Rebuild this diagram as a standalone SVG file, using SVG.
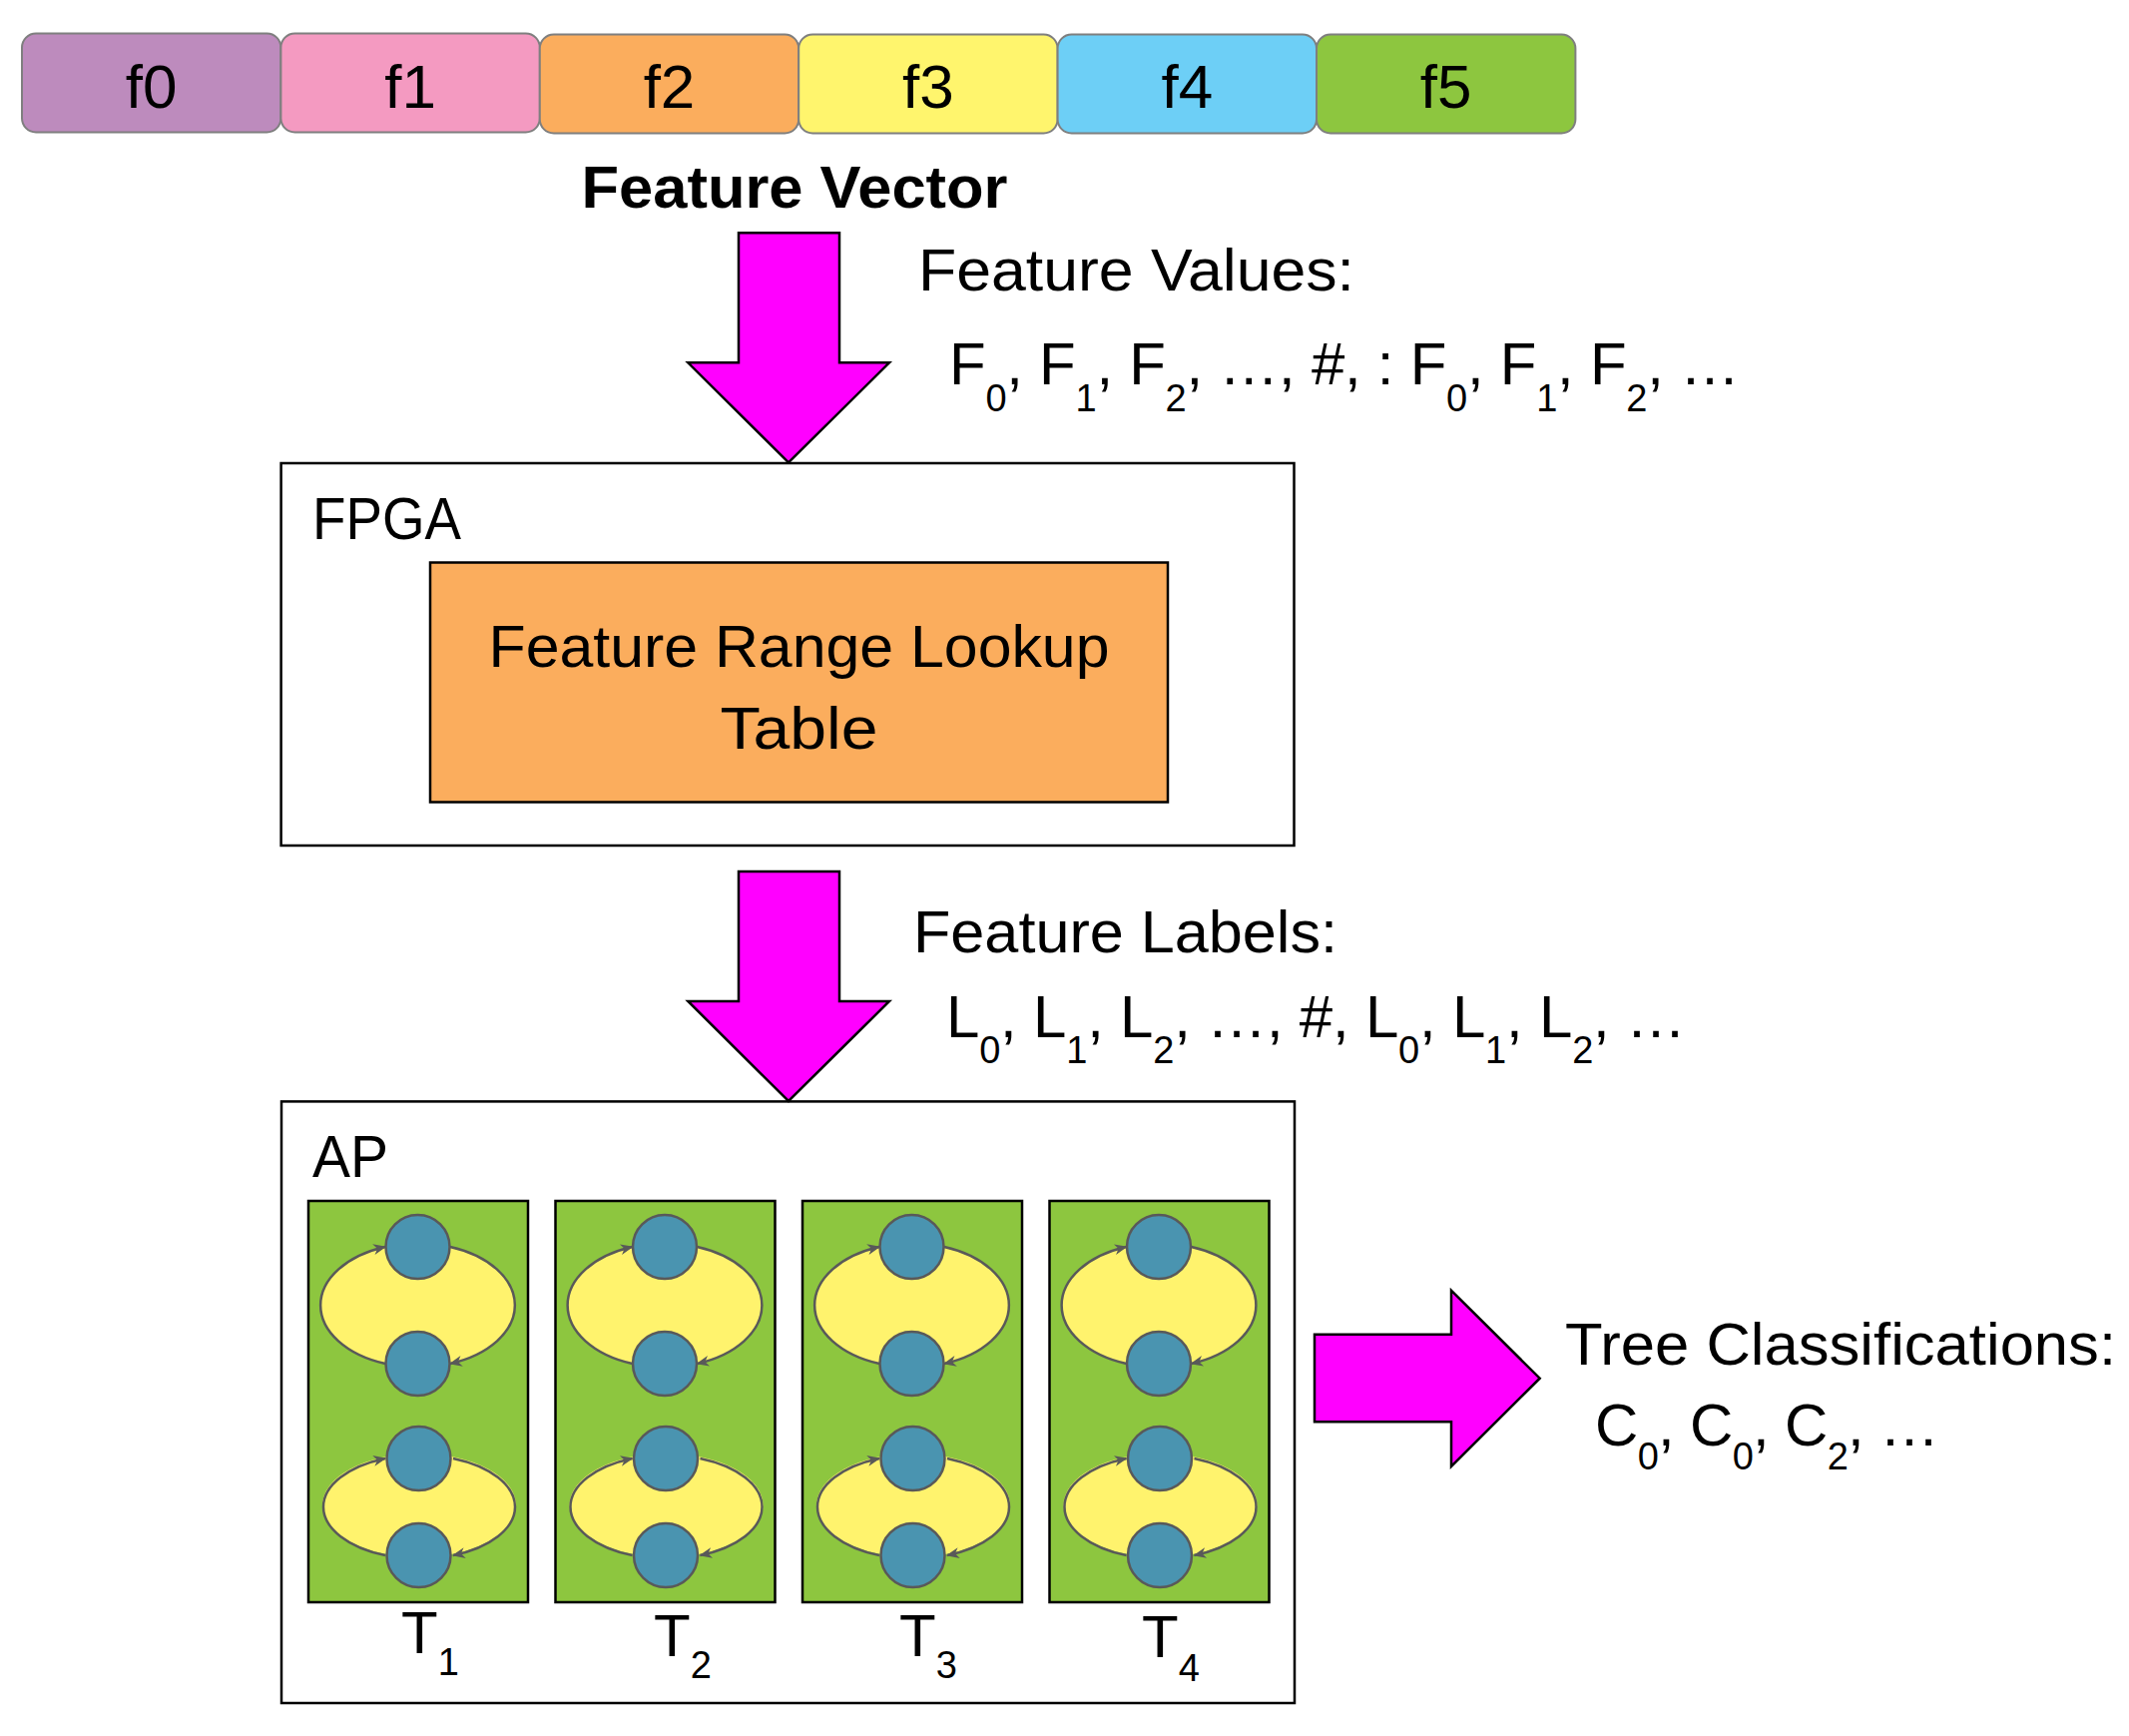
<svg xmlns="http://www.w3.org/2000/svg" xmlns:xlink="http://www.w3.org/1999/xlink" width="2133" height="1739" viewBox="0 0 2133 1739">
<style>
text { font-family: "Liberation Sans", Arial, sans-serif; fill: #000; }
.lbl { font-size: 60px; }
.sub { font-size: 38px; }
.fl { font-size: 62px; }
.feat { stroke: #7f7f7f; stroke-width: 2; }
.box { fill: #fff; stroke: #000; stroke-width: 2.5; }
.bigarrow { fill: #ff00ff; stroke: #000; stroke-width: 2.5; stroke-linejoin: miter; }
.loop { fill: none; stroke: #595959; stroke-width: 2.5; }
.node { fill: #4a94b0; stroke: #595959; stroke-width: 2.5; }
</style>
<defs>
  <marker id="ah" markerUnits="userSpaceOnUse" viewBox="0 0 12 10" markerWidth="13" markerHeight="11" refX="11" refY="5" orient="auto">
    <path d="M0,0 L12,5 L0,10 L3.5,5 Z" fill="#595959"/>
  </marker>
  <g id="treeShape">
    <rect x="0" y="0" width="220" height="402" fill="#8dc63f" stroke="#000" stroke-width="2.5"/>
    <ellipse cx="109.5" cy="104.5" rx="97" ry="62" fill="#fff36d"/>
    <path class="loop" d="M77,163 A97,62 0 0 1 77,46" marker-end="url(#ah)"/>
    <path class="loop" d="M142,46 A97,62 0 0 1 142,163" marker-end="url(#ah)"/>
    <circle class="node" cx="109.5" cy="46" r="32"/>
    <circle class="node" cx="109.5" cy="163" r="32"/>
    <ellipse cx="111" cy="305" rx="97" ry="52" fill="#fff36d"/>
    <path class="loop" d="M77,355 A97,52 0 0 1 77,258" marker-end="url(#ah)"/>
    <path class="loop" d="M145,258 A97,52 0 0 1 145,355" marker-end="url(#ah)"/>
    <circle class="node" cx="110.5" cy="258" r="32"/>
    <circle class="node" cx="110.5" cy="355" r="32"/>
  </g>
</defs>
<rect width="2133" height="1739" fill="#fff"/>

<g id="feature-vector">
  <rect class="feat" x="22" y="33.5" width="259.4" height="99" rx="14" fill="#bd8bbd"/>
  <rect class="feat" x="281.4" y="33.5" width="259.4" height="99" rx="14" fill="#f49ac1"/>
  <rect class="feat" x="540.8" y="34.5" width="259.4" height="99" rx="14" fill="#fbad5d"/>
  <rect class="feat" x="800.2" y="34.5" width="259.4" height="99" rx="14" fill="#fff56d"/>
  <rect class="feat" x="1059.6" y="34.5" width="259.4" height="99" rx="14" fill="#6dcff6"/>
  <rect class="feat" x="1319" y="34.5" width="259.4" height="99" rx="14" fill="#8dc63f"/>
  <text class="fl" x="151.7" y="108" text-anchor="middle">f0</text>
  <text class="fl" x="411.1" y="108" text-anchor="middle">f1</text>
  <text class="fl" x="670.5" y="108" text-anchor="middle">f2</text>
  <text class="fl" x="929.9" y="108" text-anchor="middle">f3</text>
  <text class="fl" x="1189.3" y="108" text-anchor="middle">f4</text>
  <text class="fl" x="1448.7" y="108" text-anchor="middle">f5</text>
  <text x="796" y="208" text-anchor="middle" font-size="59" font-weight="bold" textLength="427" lengthAdjust="spacingAndGlyphs">Feature Vector</text>
</g>

<g id="fpga">
  <rect class="box" x="281.6" y="464" width="1014.9" height="383"/>
  <text class="lbl" x="313" y="540" textLength="149" lengthAdjust="spacingAndGlyphs">FPGA</text>
  <g id="lookup-table">
    <rect x="431" y="563.5" width="739" height="240" fill="#fbad5d" stroke="#000" stroke-width="2.5"/>
    <text class="lbl" x="800.5" y="668" text-anchor="middle" textLength="622" lengthAdjust="spacingAndGlyphs">Feature Range Lookup</text>
    <text class="lbl" x="800.5" y="750" text-anchor="middle" textLength="158" lengthAdjust="spacingAndGlyphs">Table</text>
  </g>
</g>

<g id="ap">
  <rect class="box" x="282" y="1103.4" width="1015" height="602.6"/>
  <text class="lbl" x="313" y="1179" textLength="76" lengthAdjust="spacingAndGlyphs">AP</text>
  <g id="tree1">
    <use xlink:href="#treeShape" href="#treeShape" transform="translate(309,1203)"/>
    <text class="lbl" x="402" y="1656">T<tspan class="sub" dy="22">1</tspan></text>
  </g>
  <g id="tree2">
    <use xlink:href="#treeShape" href="#treeShape" transform="translate(556.5,1203)"/>
    <text class="lbl" x="655" y="1659">T<tspan class="sub" dy="22">2</tspan></text>
  </g>
  <g id="tree3">
    <use xlink:href="#treeShape" href="#treeShape" transform="translate(804,1203)"/>
    <text class="lbl" x="901" y="1659">T<tspan class="sub" dy="22">3</tspan></text>
  </g>
  <g id="tree4">
    <use xlink:href="#treeShape" href="#treeShape" transform="translate(1051.5,1203)"/>
    <text class="lbl" x="1144" y="1660">T<tspan class="sub" dy="24">4</tspan></text>
  </g>
</g>

<g id="connectors">
  <polygon class="bigarrow" points="740,233.3 841,233.3 841,363.3 891,363.3 790,463.3 689.3,363.3 740,363.3"/>
  <polygon class="bigarrow" points="740,873 841,873 841,1003 891,1003 790,1103 689.3,1003 740,1003"/>
  <polygon class="bigarrow" points="1317,1336.7 1454,1336.7 1454,1292.7 1542.7,1380.7 1454,1469 1454,1424.3 1317,1424.3"/>
</g>

<g id="labels">
  <text class="lbl" x="920" y="291" textLength="437" lengthAdjust="spacingAndGlyphs">Feature Values:</text>
  <text class="lbl" x="951" y="385" textLength="792" lengthAdjust="spacing">F<tspan class="sub" dy="27">0</tspan><tspan dy="-27">, F</tspan><tspan class="sub" dy="27">1</tspan><tspan dy="-27">, F</tspan><tspan class="sub" dy="27">2</tspan><tspan dy="-27">, …, #, : F</tspan><tspan class="sub" dy="27">0</tspan><tspan dy="-27">, F</tspan><tspan class="sub" dy="27">1</tspan><tspan dy="-27">, F</tspan><tspan class="sub" dy="27">2</tspan><tspan dy="-27">, …</tspan></text>
  <text class="lbl" x="915" y="954" textLength="425" lengthAdjust="spacingAndGlyphs">Feature Labels:</text>
  <text class="lbl" x="948" y="1039" textLength="741" lengthAdjust="spacing">L<tspan class="sub" dy="26">0</tspan><tspan dy="-26">, L</tspan><tspan class="sub" dy="26">1</tspan><tspan dy="-26">, L</tspan><tspan class="sub" dy="26">2</tspan><tspan dy="-26">, …, #, L</tspan><tspan class="sub" dy="26">0</tspan><tspan dy="-26">, L</tspan><tspan class="sub" dy="26">1</tspan><tspan dy="-26">, L</tspan><tspan class="sub" dy="26">2</tspan><tspan dy="-26">, …</tspan></text>
  <text class="lbl" x="1568" y="1367" textLength="552" lengthAdjust="spacingAndGlyphs">Tree Classifications:</text>
  <text class="lbl" x="1598" y="1448" textLength="345" lengthAdjust="spacing">C<tspan class="sub" dy="24">0</tspan><tspan dy="-24">, C</tspan><tspan class="sub" dy="24">0</tspan><tspan dy="-24">, C</tspan><tspan class="sub" dy="24">2</tspan><tspan dy="-24">, …</tspan></text>
</g>
</svg>
